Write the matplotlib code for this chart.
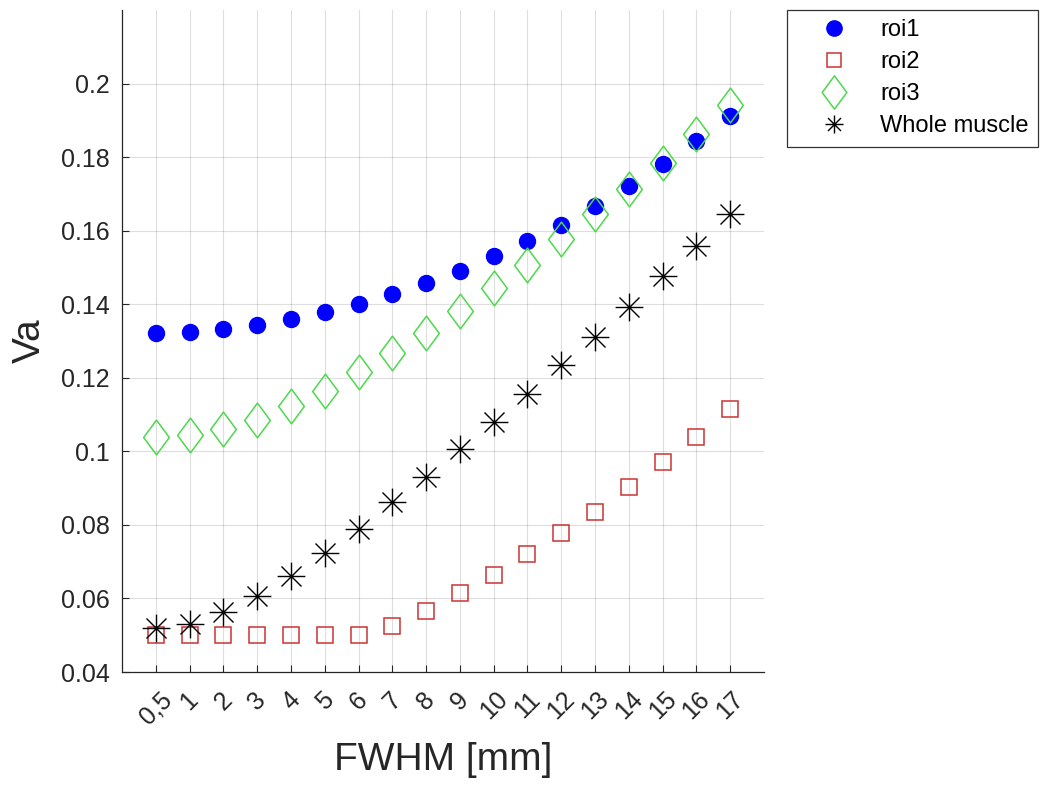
import numpy as np
import matplotlib
matplotlib.use('Agg')
import matplotlib.pyplot as plt
from matplotlib.path import Path

plt.rcParams['font.family'] = ['Liberation Sans', 'DejaVu Sans']

# FWHM do filtro e valores de Va por região
fwhm_labels = ['0,5', '1', '2', '3', '4', '5', '6', '7', '8', '9',
               '10', '11', '12', '13', '14', '15', '16', '17']
roi1 = [0.1322, 0.1325, 0.1333, 0.1344, 0.1359, 0.1379, 0.1401, 0.1429, 0.1458,
        0.1491, 0.1530, 0.1572, 0.1615, 0.1666, 0.1721, 0.1781, 0.1843, 0.1911]
roi2 = [0.0500, 0.0500, 0.0500, 0.0500, 0.0500, 0.0500, 0.0500, 0.0524, 0.0567,
        0.0614, 0.0664, 0.0720, 0.0777, 0.0836, 0.0902, 0.0970, 0.1040, 0.1116]
roi3 = [0.1039, 0.1045, 0.1061, 0.1086, 0.1124, 0.1164, 0.1216, 0.1267, 0.1323,
        0.1382, 0.1443, 0.1508, 0.1576, 0.1644, 0.1712, 0.1784, 0.1863, 0.1943]
whole = [0.0519, 0.0530, 0.0562, 0.0607, 0.0661, 0.0723, 0.0788, 0.0861, 0.0930,
         0.1006, 0.1079, 0.1156, 0.1235, 0.1312, 0.1392, 0.1476, 0.1559, 0.1644]

x = np.arange(1, len(fwhm_labels) + 1)

# marcadores estilo MATLAB: losango alongado e asterisco de 8 braços
diamante = Path([(0, 1), (0.74, 0), (0, -1), (-0.74, 0), (0, 1)],
                [Path.MOVETO, Path.LINETO, Path.LINETO, Path.LINETO, Path.CLOSEPOLY])
d = 0.72
asterisco = Path([(-1, 0), (1, 0), (0, -1), (0, 1),
                  (-d, -d), (d, d), (-d, d), (d, -d)],
                 [Path.MOVETO, Path.LINETO] * 4)

fig = plt.figure(figsize=(10.4, 7.87), dpi=100)
ax = fig.add_axes([122 / 1040, 1 - 672 / 787, 642 / 1040, 662 / 787])

ax.plot(x, roi1, 'o', color='#0000ff', markersize=11.5, label='roi1')
ax.plot(x, roi2, 's', color='#cc3333', markerfacecolor='none', markersize=12,
        markeredgewidth=1.1, label='roi2')
ax.plot(x, roi3, linestyle='none', marker=diamante, color='#4cd94c',
        markerfacecolor='none', markersize=25, markeredgewidth=1.1, label='roi3')
ax.plot(x, whole, linestyle='none', marker=asterisco, color='black',
        markerfacecolor='none', markersize=20, markeredgewidth=1.0,
        label='Whole muscle')

ax.set_xlim(0, 19)
ax.set_ylim(0.04, 0.22)
ax.set_xticks(x)
ax.set_xticklabels(fwhm_labels, rotation=45, ha='center', va='top')
ax.set_yticks(np.arange(0.04, 0.201, 0.02))
ax.set_yticklabels(['0.04', '0.06', '0.08', '0.1', '0.12', '0.14', '0.16', '0.18', '0.2'])

cor_texto = '#262626'
ax.tick_params(direction='in', length=5, width=0.8, colors=cor_texto, labelsize=18)
ax.tick_params(axis='x', pad=11)
ax.tick_params(axis='y', pad=9)
ax.grid(True, color='black', alpha=0.13, linewidth=0.8)
ax.set_axisbelow(True)
for lado in ['top', 'right']:
    ax.spines[lado].set_visible(False)
for lado in ['left', 'bottom']:
    ax.spines[lado].set_color(cor_texto)
    ax.spines[lado].set_linewidth(0.9)

ax.set_xlabel('FWHM [mm]', fontsize=28, color=cor_texto)
ax.set_ylabel('Va', fontsize=28, color=cor_texto)
ax.xaxis.set_label_coords(0.5, -0.105)
ax.yaxis.set_label_coords(-0.115, 0.5)

leg = ax.legend(loc='upper left', bbox_to_anchor=(787 / 1040, 1 - 10 / 787),
                bbox_transform=fig.transFigure, fontsize=17, frameon=True,
                fancybox=False, borderpad=0.4, handlelength=3.2,
                handletextpad=0.35, labelspacing=0.42, borderaxespad=0)
leg.get_frame().set_edgecolor('black')
leg.get_frame().set_linewidth(0.9)
for h, ms in zip(leg.legend_handles, [11, 10, 24, 13]):
    h.set_markersize(ms)

fig.savefig('out.png', dpi=100)
